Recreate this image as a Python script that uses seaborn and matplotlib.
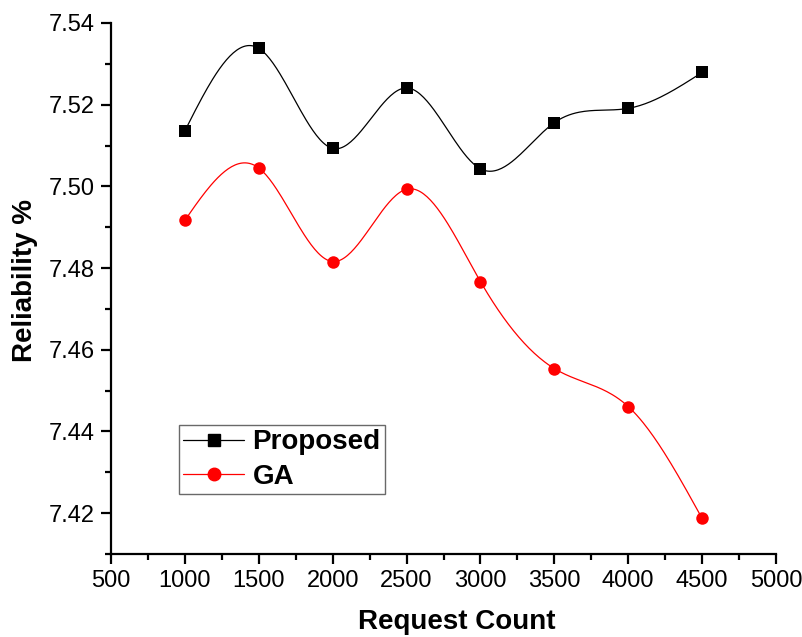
import numpy as np
import pandas as pd
import matplotlib
matplotlib.use("Agg")
import matplotlib.pyplot as plt
import seaborn as sns
from matplotlib.ticker import MultipleLocator

request_count = [1000, 1500, 2000, 2500, 3000, 3500, 4000, 4500]
proposed = [7.5136, 7.5338, 7.5093, 7.5241, 7.5043, 7.5156, 7.5191, 7.5279]
ga = [7.4917, 7.5045, 7.4816, 7.4993, 7.4767, 7.4554, 7.4461, 7.4187]


# natural cubic spline, used only to draw the smooth connecting line
def spline(x, y, n=300):
    x = np.asarray(x, float)
    y = np.asarray(y, float)
    k = len(x)
    h = np.diff(x)
    A = np.zeros((k, k))
    b = np.zeros(k)
    A[0, 0] = A[-1, -1] = 1
    for i in range(1, k - 1):
        A[i, i - 1] = h[i - 1]
        A[i, i] = 2 * (h[i - 1] + h[i])
        A[i, i + 1] = h[i]
        b[i] = 6 * ((y[i + 1] - y[i]) / h[i] - (y[i] - y[i - 1]) / h[i - 1])
    m = np.linalg.solve(A, b)
    xs = np.linspace(x[0], x[-1], n)
    idx = np.clip(np.searchsorted(x, xs) - 1, 0, k - 2)
    x0, x1 = x[idx], x[idx + 1]
    hh = x1 - x0
    t0, t1 = x1 - xs, xs - x0
    ys = (m[idx] * t0 ** 3 + m[idx + 1] * t1 ** 3) / (6 * hh) \
        + (y[idx] / hh - m[idx] * hh / 6) * t0 \
        + (y[idx + 1] / hh - m[idx + 1] * hh / 6) * t1
    return xs, ys


sns.set_style("ticks")
plt.rcParams['font.family'] = ['Liberation Sans', 'DejaVu Sans']
plt.rcParams['text.color'] = 'black'
plt.rcParams['axes.labelcolor'] = 'black'

fig = plt.figure(figsize=(8.02, 6.37), dpi=100)
ax = fig.add_axes([0.1384, 0.1303, 0.8292, 0.8336])

df = pd.DataFrame({"Request Count": request_count, "Proposed": proposed, "GA": ga})

for name, color, marker, ms in [("Proposed", "black", "s", 8), ("GA", "red", "o", 9)]:
    xs, ys = spline(df["Request Count"], df[name])
    ax.plot(xs, ys, color=color, lw=0.9, zorder=2)
    sns.scatterplot(data=df, x="Request Count", y=name, ax=ax, color=color,
                    marker=marker, s=ms ** 2, edgecolor=color, linewidth=0, zorder=3)
    ax.plot([], [], color=color, lw=0.9, marker=marker, markersize=ms, label=name)

ax.set_xlim(500, 5000)
ax.set_ylim(7.41, 7.54)
ax.xaxis.set_major_locator(MultipleLocator(500))
ax.xaxis.set_minor_locator(MultipleLocator(250))
ax.yaxis.set_major_locator(MultipleLocator(0.02))
ax.yaxis.set_minor_locator(MultipleLocator(0.01))
ax.yaxis.set_major_formatter(matplotlib.ticker.FormatStrFormatter('%.2f'))

sns.despine(ax=ax)
for s in ["left", "bottom"]:
    ax.spines[s].set_linewidth(1.6)
    ax.spines[s].set_color("black")
ax.tick_params(which="major", length=7.5, width=1.6, labelsize=17, colors="black", pad=4)
ax.tick_params(which="minor", length=4.5, width=1.6, colors="black")

ax.set_xlabel("Request Count", fontsize=20, fontweight="bold", labelpad=12)
ax.xaxis.label.set_x(0.52)
ax.set_ylabel("Reliability %", fontsize=20, fontweight="bold", labelpad=8)
ax.yaxis.label.set_y(0.515)

leg = ax.legend(loc="lower left", bbox_to_anchor=(0.102, 0.113), frameon=True, fancybox=False,
                prop={"size": 20, "weight": "bold"}, handlelength=2.2, handletextpad=0.3,
                borderpad=0.15, labelspacing=0.3, borderaxespad=0)
leg.get_frame().set_edgecolor("#444444")
leg.get_frame().set_linewidth(1.0)

fig.savefig("out.png", dpi=100)
